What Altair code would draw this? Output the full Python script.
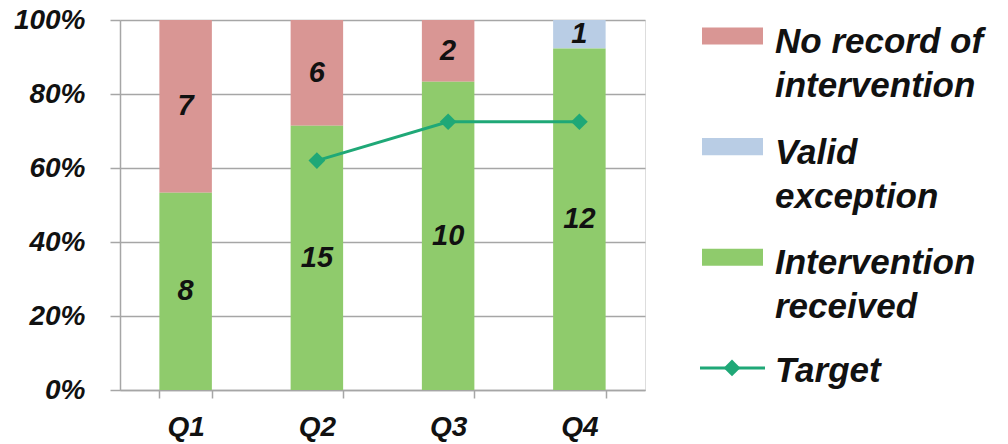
import altair as alt
import pandas as pd

# ---- data ----
quarters = ["Q1", "Q2", "Q3", "Q4"]
no_record = [7, 6, 2, 0]
valid_exception = [0, 0, 0, 1]
received = [8, 15, 10, 12]
target = [None, 0.62, 0.725, 0.725]

series_names = ["No record of intervention", "Valid exception", "Intervention received"]
series_colors = ["#D99694", "#B9CDE5", "#8FCB6C"]
legend_labels = ["No record of\nintervention", "Valid\nexception", "Intervention\nreceived"]
target_name = "Target"
target_color = "#1FA877"

FONT = "Liberation Sans"
GRID = "#A6A6A6"

# ---- tables built from the arrays ----
series_values = {
    "No record of intervention": no_record,
    "Valid exception": valid_exception,
    "Intervention received": received,
}
stack_order = {"Intervention received": 0, "Valid exception": 1, "No record of intervention": 2}
rows = []
for i, q in enumerate(quarters):
    for name in series_names:
        rows.append({"quarter": q, "series": name, "count": series_values[name][i],
                     "order": stack_order[name]})
bars_df = pd.DataFrame(rows)

target_df = pd.DataFrame({"quarter": quarters, "target": target}).dropna()

legend_df = pd.DataFrame({"series": series_names, "label": legend_labels,
                          "row": list(range(len(series_names)))})
target_legend_df = pd.DataFrame({"label": [target_name], "row": [len(series_names)]})

color_scale = alt.Scale(domain=series_names, range=series_colors)

x_enc = alt.X("quarter:N", sort=quarters,
              scale=alt.Scale(paddingInner=0.6, paddingOuter=0.3),
              axis=alt.Axis(title=None, labelAngle=0, tickBand="extent", tickSize=8,
                            tickColor=GRID, tickWidth=1.5, domainColor=GRID, domainWidth=1.5,
                            labelPadding=15, labelFont=FONT, labelFontSize=28,
                            labelFontWeight="bold", labelFontStyle="italic",
                            labelColor="#111111", grid=False))

base = alt.Chart(bars_df).transform_stack(
    stack="count", groupby=["quarter"], sort=[alt.SortField("order", "ascending")],
    as_=["y0", "y1"], offset="normalize")

bars = base.mark_bar().encode(
    x=x_enc,
    y=alt.Y("y0:Q", scale=alt.Scale(domain=[0, 1]),
            axis=alt.Axis(title=None, values=[0, 0.2, 0.4, 0.6, 0.8, 1.0], format=".0%",
                          tickSize=10, tickColor=GRID, tickWidth=1.5, gridColor=GRID,
                          gridWidth=1.5, domainColor=GRID, domainWidth=1.5, labelPadding=25,
                          labelFont=FONT, labelFontSize=28, labelFontWeight="bold",
                          labelFontStyle="italic", labelColor="#111111")),
    y2="y1:Q",
    color=alt.Color("series:N", scale=color_scale, legend=None),
)

labels = base.transform_filter("datum.count > 0").transform_calculate(
    mid="(datum.y0 + datum.y1) / 2"
).mark_text(font=FONT, fontSize=29, fontWeight="bold", fontStyle="italic",
            color="#111111", baseline="middle").encode(
    x=alt.X("quarter:N", sort=quarters),
    y=alt.Y("mid:Q"),
    text=alt.Text("count:Q"),
)

tline = alt.Chart(target_df).mark_line(color=target_color, strokeWidth=3).encode(
    x=alt.X("quarter:N", sort=quarters), y=alt.Y("target:Q"))
tpts = alt.Chart(target_df).mark_point(shape="diamond", filled=True, size=280,
                                       color=target_color, opacity=1).encode(
    x=alt.X("quarter:N", sort=quarters), y=alt.Y("target:Q"))

main = alt.layer(bars, labels, tline, tpts)

# ---- legend drawn as its own layer ----
leg_y = alt.Y("row:Q", scale=alt.Scale(domain=[-0.1446, 3.199], reverse=True), axis=None)

swatches = alt.Chart(legend_df).mark_point(
    shape="M-1,-0.28H1V0.28H-1Z", size=3721, filled=True, opacity=1, strokeWidth=0
).encode(x=alt.value(612.5), y=leg_y,
         color=alt.Color("series:N", scale=color_scale, legend=None))

leg_text = alt.Chart(legend_df).mark_text(
    align="left", baseline="alphabetic", dy=17, lineBreak="\n", lineHeight=44,
    font=FONT, fontSize=35, fontWeight="bold", fontStyle="italic", color="#111111"
).encode(x=alt.value(655), y=leg_y, text="label:N")

leg_rule = alt.Chart(target_legend_df).mark_rule(color=target_color, strokeWidth=3).encode(
    x=alt.value(580), x2=alt.value(645), y=leg_y)
leg_diamond = alt.Chart(target_legend_df).mark_point(
    shape="diamond", filled=True, size=280, color=target_color, opacity=1
).encode(x=alt.value(612), y=leg_y)
leg_ttext = alt.Chart(target_legend_df).mark_text(
    align="left", baseline="alphabetic", dy=14,
    font=FONT, fontSize=35, fontWeight="bold", fontStyle="italic", color="#111111"
).encode(x=alt.value(655), y=leg_y, text="label:N")

legend = alt.layer(swatches, leg_text, leg_rule, leg_diamond, leg_ttext)

chart = alt.layer(main, legend).resolve_scale(y="independent").properties(
    width=525, height=370,
    padding={"left": 13, "top": 6, "right": 5, "bottom": 5},
).configure_view(stroke=None).configure(background="white")

chart.save("out.html", embed_options={"renderer": "svg", "actions": False})
